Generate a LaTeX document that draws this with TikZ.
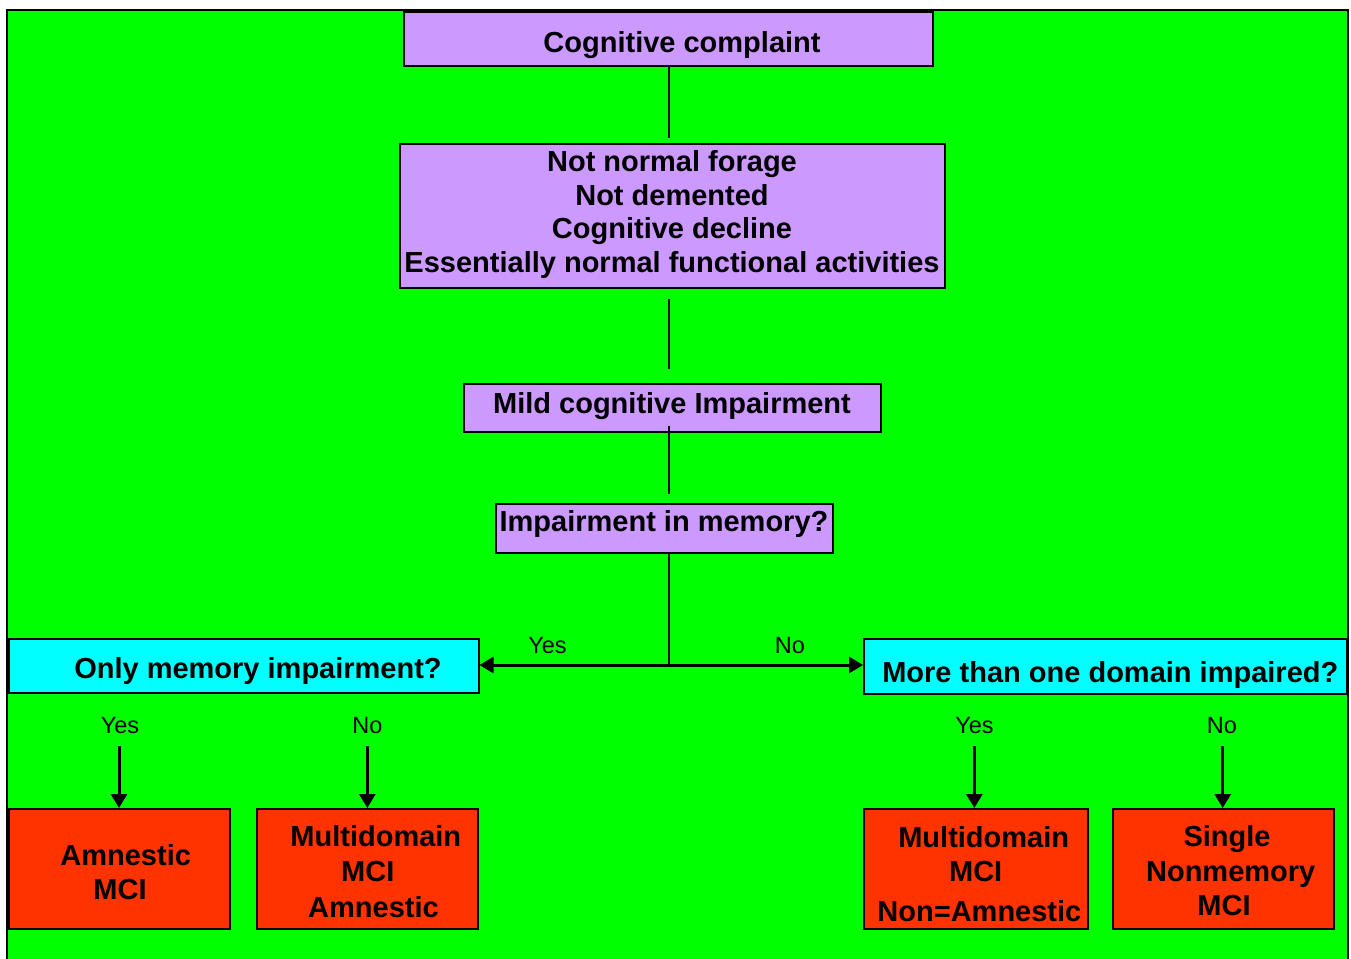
\documentclass[tikz,border=0pt]{standalone}
\usepackage{fontspec}
\setmainfont{Liberation Sans}
\usetikzlibrary{arrows.meta}
\definecolor{bggreen}{HTML}{00FF00}
\definecolor{lilac}{HTML}{CC99FF}
\definecolor{aqua}{HTML}{00FFFF}
\definecolor{redorange}{HTML}{FF3300}
\begin{document}
\begin{tikzpicture}[x=1pt,y=-1pt,
  box/.style={draw=black, line width=2pt, inner sep=0pt},
  lilacbox/.style={box, fill=lilac},
  aquabox/.style={box, fill=aqua},
  redbox/.style={box, fill=redorange},
  bigtxt/.style={anchor=base, inner sep=0pt, font=\fontsize{29}{33.7}\selectfont\bfseries},
  lbl/.style={anchor=base, inner sep=0pt, font=\fontsize{23.5}{27}\selectfont},
  conn/.style={draw=black, line width=2pt},
  arr/.style={draw=black, line width=3pt, -{Triangle[length=14pt,width=16pt]}}
]
\useasboundingbox (0,0) rectangle (1351,958);
\fill[white] (0,0) rectangle (1351,958);
\draw[fill=bggreen, draw=black, line width=2pt] (7,10) rectangle (1348,975);

% boxes
\node[lilacbox, minimum width=529pt, minimum height=54pt] (cc) at (668.5,39) {};
\node[lilacbox, minimum width=545pt, minimum height=144pt] (nn) at (672,216) {};
\node[lilacbox, minimum width=417pt, minimum height=48pt] (mci) at (672,408) {};
\node[lilacbox, minimum width=337pt, minimum height=49pt] (mem) at (664,528) {};
\node[aquabox, minimum width=470pt, minimum height=54pt] (om) at (243.5,665.5) {};
\node[aquabox, minimum width=483pt, minimum height=55pt] (md) at (1105.5,666) {};
\node[redbox, minimum width=221pt, minimum height=120pt] (ra) at (119,869) {};
\node[redbox, minimum width=221pt, minimum height=120pt] (rb) at (367.5,869) {};
\node[redbox, minimum width=224pt, minimum height=120pt] (rc) at (976,869) {};
\node[redbox, minimum width=221pt, minimum height=120pt] (rd) at (1223.5,869) {};

% texts
\node[bigtxt] at (682,52.5) {Cognitive complaint};
\node[bigtxt] at (672,171.7) {Not normal forage};
\node[bigtxt] at (672,205) {Not demented};
\node[bigtxt] at (672,238.5) {Cognitive decline};
\node[bigtxt] at (672,272.5) {Essentially normal functional activities};
\node[bigtxt] at (672,413.3) {Mild cognitive Impairment};
\node[bigtxt] at (664,531.7) {Impairment in memory?};
\node[bigtxt] at (258,678.3) {Only memory impairment?};
\node[bigtxt] at (1110.3,682.7) {More than one domain impaired?};
\node[bigtxt] at (125.7,865) {Amnestic};
\node[bigtxt] at (120,899) {MCI};
\node[bigtxt] at (375.8,846) {Multidomain};
\node[bigtxt] at (367.8,881.7) {MCI};
\node[bigtxt] at (373.5,917.3) {Amnestic};
\node[bigtxt] at (983.7,847.7) {Multidomain};
\node[bigtxt] at (975.7,881.7) {MCI};
\node[bigtxt] at (979.4,921.7) {Non=Amnestic};
\node[bigtxt] at (1227,846.7) {Single};
\node[bigtxt] at (1230.7,881.7) {Nonmemory};
\node[bigtxt] at (1224,915) {MCI};

\node[lbl] (ly) at (547.5,653.3) {Yes};
\node[lbl] (ln) at (790,653.3) {No};
\node[lbl] (l1) at (120,733.3) {Yes};
\node[lbl] (l2) at (367.5,733.3) {No};
\node[lbl] (l3) at (974.5,733.3) {Yes};
\node[lbl] (l4) at (1222,733.3) {No};

% connectors
\coordinate (j) at (669,665);
\coordinate (t1) at (119,746);
\coordinate (t2) at (367.3,746);
\coordinate (t3) at (974.3,746);
\coordinate (t4) at (1222.7,746);

\draw[conn] (j |- cc.south) -- ([yshift=5pt]j |- nn.north);
\draw[conn] ([yshift=-10pt]j |- nn.south) -- ([yshift=14pt]j |- mci.north);
\draw[conn] ([yshift=7pt]j |- mci.south) -- ([yshift=9pt]j |- mem.north);
\draw[conn] (j |- mem.south) -- (j);
\draw[arr] (j) -- (j -| om.east);
\draw[arr] (j) -- (j -| md.west);
\draw[arr] (t1) -- (t1 |- ra.north);
\draw[arr] (t2) -- (t2 |- rb.north);
\draw[arr] (t3) -- (t3 |- rc.north);
\draw[arr] (t4) -- (t4 |- rd.north);
\end{tikzpicture}
\end{document}
